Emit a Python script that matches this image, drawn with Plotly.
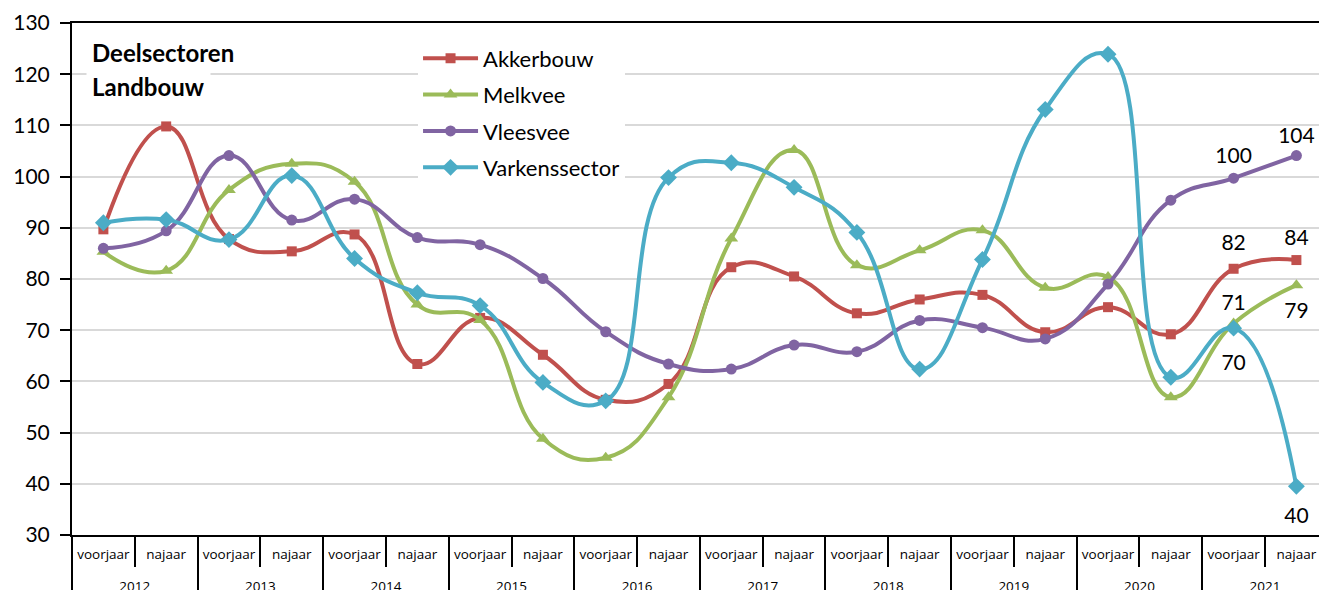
import plotly.graph_objects as go

years = ["2012", "2013", "2014", "2015", "2016", "2017", "2018", "2019", "2020", "2021"]
seasons = ["voorjaar", "najaar"]

akkerbouw = [89.7, 109.8, 87.8, 85.4, 88.7, 63.4, 72.4, 65.2, 56.4, 59.5,
             82.3, 80.5, 73.3, 76.0, 76.9, 69.6, 74.5, 69.2, 82.0, 83.7]
melkvee = [85.3, 81.6, 97.4, 102.5, 99.0, 75.0, 72.0, 48.8, 45.1, 56.9,
           87.9, 105.2, 82.7, 85.6, 89.5, 78.3, 80.4, 56.9, 71.3, 78.8]
vleesvee = [86.0, 89.4, 104.1, 91.5, 95.6, 88.1, 86.7, 80.1, 69.7, 63.4,
            62.4, 67.1, 65.8, 71.9, 70.5, 68.3, 79.0, 95.4, 99.7, 104.1]
varkens = [91.0, 91.6, 87.7, 100.2, 84.0, 77.3, 74.8, 59.8, 56.2, 99.8,
           102.7, 97.9, 89.1, 62.4, 83.8, 113.1, 123.9, 60.8, 70.4, 39.5]

labels_akker = ["82", "84"]
labels_melk = ["71", "79"]
labels_vlees = ["100", "104"]
labels_varken = ["70", "40"]

# category labels; the trailing blank line only adds room below the season row
x_years = [y for y in years for _ in seasons]
x_seasons = [s + "<br> " for _ in years for s in seasons]
x = [x_years, x_seasons]
x_last = [x_years[-2:], x_seasons[-2:]]

series = [
    ("Akkerbouw", akkerbouw, "#C0504D", "square", 10, labels_akker,
     ["top center", "top center"], [20, 14]),
    ("Melkvee", melkvee, "#9BBB59", "triangle-up", 12, labels_melk,
     ["top center", "bottom center"], [12, 26]),
    ("Vleesvee", vleesvee, "#8064A2", "circle", 11, labels_vlees,
     ["top center", "top center"], [14, 10]),
    ("Varkenssector", varkens, "#4BACC6", "diamond", 13, labels_varken,
     ["bottom center", "bottom center"], [40, 32]),
]

fig = go.Figure()
for name, vals, col, sym, ms, lbl, pos, gap in series:
    fig.add_trace(go.Scatter(
        x=x, y=vals, name=name, mode="lines+markers", legendgroup=name,
        line=dict(color=col, width=4, shape="spline", smoothing=1.3),
        marker=dict(color=col, symbol=sym, size=ms),
        cliponaxis=False,
    ))
for name, vals, col, sym, ms, lbl, pos, gap in series:
    fig.add_trace(go.Scatter(
        x=x_last, y=vals[-2:], mode="markers+text", showlegend=False,
        legendgroup=name,
        marker=dict(size=gap, opacity=0), text=lbl, textposition=pos,
        textfont=dict(size=21, color="black", family="Lato"),
        hoverinfo="skip", cliponaxis=False,
    ))

fig.update_layout(
    width=1319, height=590,
    margin=dict(l=72, r=0, t=23, b=55, autoexpand=False),
    plot_bgcolor="white", paper_bgcolor="white",
    font=dict(family="Lato", color="black"),
    showlegend=True,
    legend=dict(x=0.2775, y=0.972, xanchor="left", yanchor="top",
                font=dict(size=22, family="Lato"), bgcolor="white",
                itemwidth=55, tracegroupgap=4.8),
    xaxis=dict(type="multicategory", range=[-0.5, 19.36], tickangle=0,
               showline=True, linecolor="black", linewidth=2, mirror=True,
               ticks="outside", ticklen=30, tickcolor="black", tickwidth=2,
               tickson="boundaries", showdividers=True, dividercolor="black",
               dividerwidth=2, tickfont=dict(size=13.5, family="Open Sans"),
               ticklabelstandoff=6, showgrid=False),
    yaxis=dict(range=[30, 130], dtick=10, showgrid=True, gridcolor="#D9D9D9",
               gridwidth=2, showline=True, linecolor="black", linewidth=2,
               ticks="outside", ticklen=10, tickcolor="black", tickwidth=1.5,
               ticklabelstandoff=6,
               tickfont=dict(size=21, family="Lato"), zeroline=False),
)

fig.add_annotation(text="<b>Deelsectoren</b>", xref="paper", yref="paper",
                   x=0.0112, y=(535 - 52) / 512, xanchor="left", yanchor="middle",
                   showarrow=False, font=dict(size=24, family="Lato"),
                   bgcolor="white", borderpad=5)
fig.add_annotation(text="<b>Landbouw</b>", xref="paper", yref="paper",
                   x=0.0112, y=(535 - 86) / 512, xanchor="left", yanchor="middle",
                   showarrow=False, font=dict(size=24, family="Lato"),
                   bgcolor="white", borderpad=5)

fig.write_html("out.html",
               config={"displayModeBar": False},
               post_script="document.body.style.margin='0';"
                           "document.documentElement.style.overflow='hidden';"
                           "document.body.style.overflow='hidden';")
